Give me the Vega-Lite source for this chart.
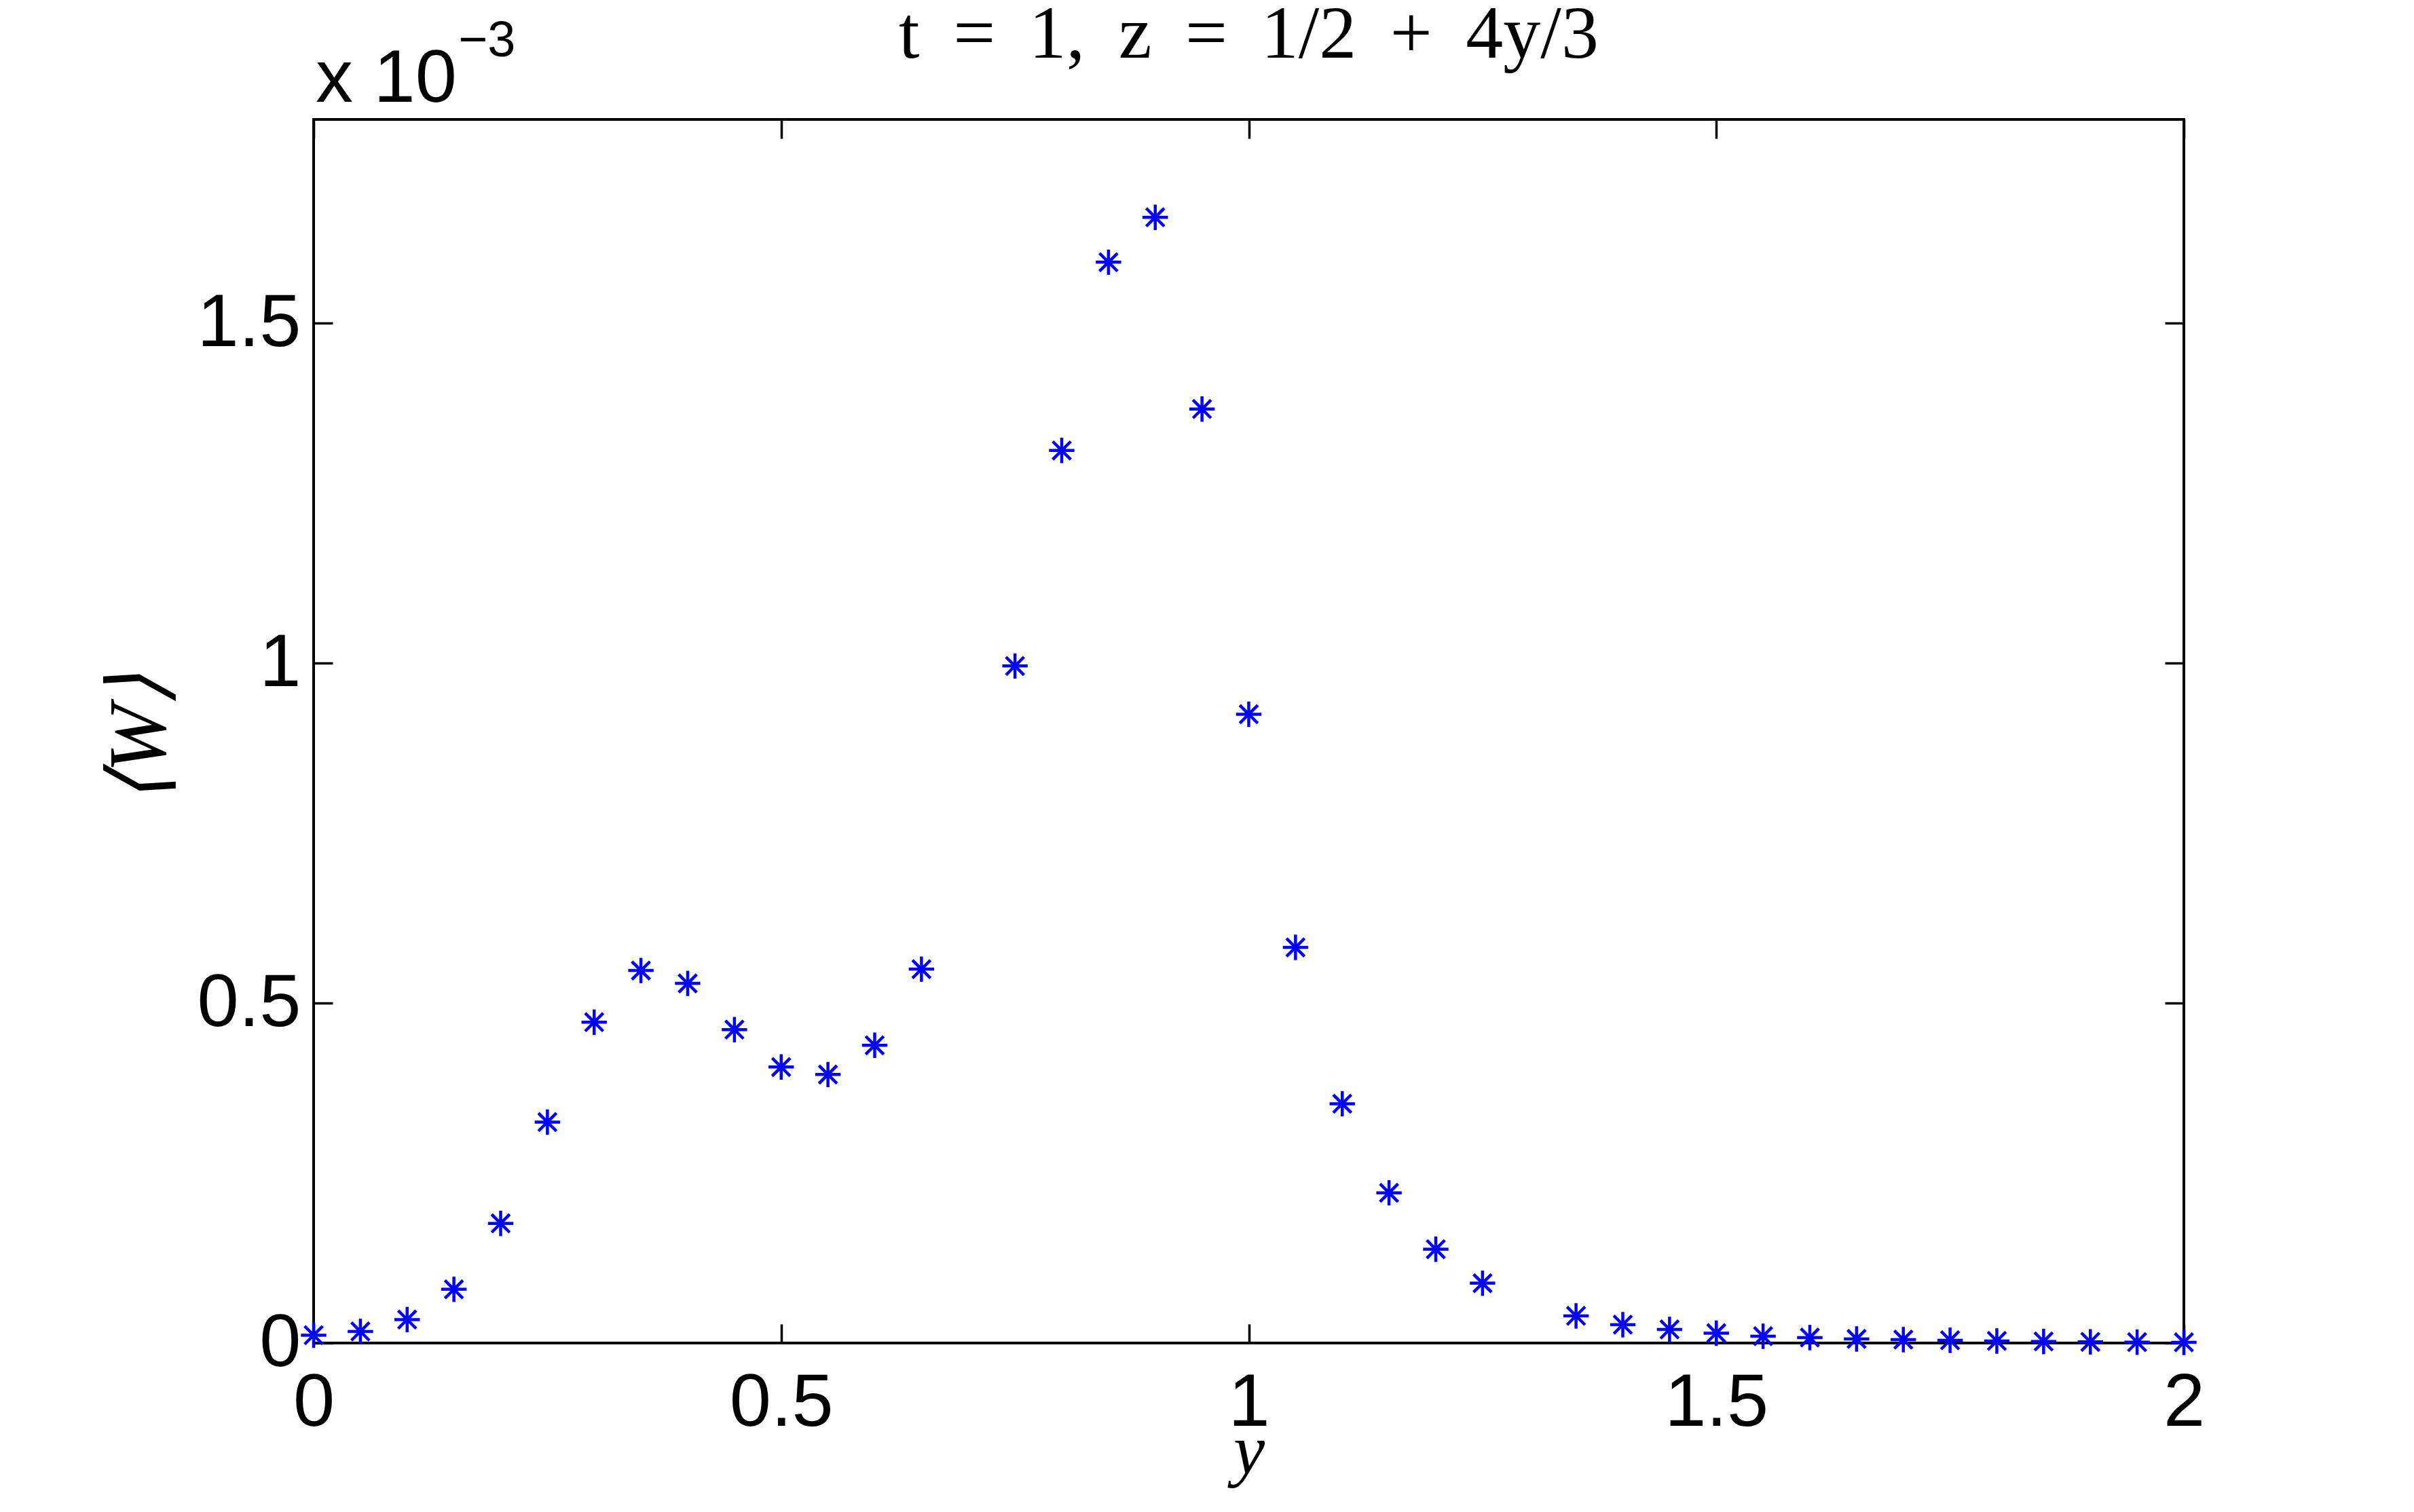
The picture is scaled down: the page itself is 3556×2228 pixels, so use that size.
{
  "$schema": "https://vega.github.io/schema/vega-lite/v6.json",
  "width": 2755,
  "height": 1803,
  "autosize": {"type": "none"},
  "padding": {"left": 462, "top": 176, "right": 339, "bottom": 249},
  "background": "white",
  "config": {
    "view": {"stroke": "black", "strokeWidth": 4},
    "axis": {
      "domain": false,
      "grid": false,
      "tickSize": -28,
      "tickWidth": 3.5,
      "tickColor": "black",
      "labelFont": "Liberation Sans",
      "labelFontSize": 110,
      "labelColor": "black",
      "labelFlush": false,
      "labelOverlap": false,
      "labelBound": false,
      "labelAngle": 0
    }
  },
  "title": {
    "text": "t\u2009 = \u20091,\u2009 z\u2009 = \u20091/2\u2009 + \u20094y/3",
    "font": "Liberation Serif",
    "fontSize": 110,
    "fontWeight": "normal",
    "color": "black",
    "anchor": "middle",
    "baseline": "alphabetic",
    "offset": -171
  },
  "data": {
    "values": [
      {"y": 0.00, "W": 1.15e-5},
      {"y": 0.05, "W": 1.7e-5},
      {"y": 0.10, "W": 3.45e-5},
      {"y": 0.15, "W": 7.9e-5},
      {"y": 0.20, "W": 1.76e-4},
      {"y": 0.25, "W": 3.25e-4},
      {"y": 0.30, "W": 4.72e-4},
      {"y": 0.35, "W": 5.48e-4},
      {"y": 0.40, "W": 5.29e-4},
      {"y": 0.45, "W": 4.61e-4},
      {"y": 0.50, "W": 4.06e-4},
      {"y": 0.55, "W": 3.95e-4},
      {"y": 0.60, "W": 4.38e-4},
      {"y": 0.65, "W": 5.50e-4},
      {"y": 0.75, "W": 9.96e-4},
      {"y": 0.80, "W": 1.313e-3},
      {"y": 0.85, "W": 1.590e-3},
      {"y": 0.90, "W": 1.656e-3},
      {"y": 0.95, "W": 1.374e-3},
      {"y": 1.00, "W": 9.25e-4},
      {"y": 1.05, "W": 5.82e-4},
      {"y": 1.10, "W": 3.52e-4},
      {"y": 1.15, "W": 2.21e-4},
      {"y": 1.20, "W": 1.38e-4},
      {"y": 1.25, "W": 8.8e-5},
      {"y": 1.35, "W": 4.0e-5},
      {"y": 1.40, "W": 2.7e-5},
      {"y": 1.45, "W": 2.0e-5},
      {"y": 1.50, "W": 1.45e-5},
      {"y": 1.55, "W": 1.0e-5},
      {"y": 1.60, "W": 8.0e-6},
      {"y": 1.65, "W": 6.0e-6},
      {"y": 1.70, "W": 5.0e-6},
      {"y": 1.75, "W": 4.0e-6},
      {"y": 1.80, "W": 3.0e-6},
      {"y": 1.85, "W": 2.3e-6},
      {"y": 1.90, "W": 1.7e-6},
      {"y": 1.95, "W": 1.3e-6},
      {"y": 2.00, "W": 1.0e-6}
    ]
  },
  "layer": [
    {
      "mark": {
        "type": "point",
        "shape": "M0,-1L0,1M-1,0L1,0M-0.71,-0.71L0.71,0.71M-0.71,0.71L0.71,-0.71",
        "filled": false,
        "stroke": "#0000ff",
        "strokeWidth": 4.5,
        "size": 1400,
        "opacity": 1,
        "clip": false
      },
      "encoding": {
        "x": {
          "field": "y",
          "type": "quantitative",
          "scale": {"domain": [0, 2], "nice": false, "zero": false},
          "axis": {
            "orient": "bottom",
            "values": [0, 0.5, 1, 1.5, 2],
            "format": "~g",
            "labelBaseline": "alphabetic",
            "labelPadding": 149,
            "title": "y",
            "titleFont": "Liberation Serif",
            "titleFontStyle": "italic",
            "titleFontWeight": "normal",
            "titleFontSize": 104,
            "titleColor": "black",
            "titleBaseline": "alphabetic",
            "titleAlign": "center",
            "titleX": 1377.5,
            "titleY": 191
          }
        },
        "y": {
          "field": "W",
          "type": "quantitative",
          "scale": {"domain": [0, 0.0018], "nice": false, "zero": false},
          "axis": {
            "orient": "left",
            "values": [0, 0.0005, 0.001, 0.0015],
            "labelExpr": "format(datum.value * 1000, '~g')",
            "labelBaseline": "middle",
            "labelAlign": "right",
            "labelPadding": 47,
            "title": "⟨W⟩",
            "titleFont": "Liberation Serif",
            "titleFontStyle": "italic",
            "titleFontWeight": "normal",
            "titleFontSize": 120,
            "titleColor": "black",
            "titleAngle": 270,
            "titleBaseline": "alphabetic",
            "titleAlign": "center",
            "titleX": -220,
            "titleY": 912
          }
        }
      }
    },
    {
      "mark": {"type": "point", "opacity": 0},
      "encoding": {
        "x": {
          "field": "y",
          "type": "quantitative",
          "scale": {"domain": [0, 2], "nice": false, "zero": false},
          "axis": {"orient": "top", "values": [0, 0.5, 1, 1.5, 2], "labels": false, "title": null}
        },
        "y": {
          "field": "W",
          "type": "quantitative",
          "scale": {"domain": [0, 0.0018], "nice": false, "zero": false},
          "axis": {"orient": "right", "values": [0, 0.0005, 0.001, 0.0015], "labels": false, "title": null}
        }
      }
    },
    {
      "data": {"values": [{"label": "x 10"}]},
      "mark": {
        "type": "text",
        "align": "left",
        "baseline": "alphabetic",
        "font": "Liberation Sans",
        "fontSize": 110,
        "color": "black",
        "dx": 3,
        "dy": -26
      },
      "encoding": {
        "x": {"datum": 0, "type": "quantitative", "scale": {"domain": [0, 2], "nice": false, "zero": false}, "axis": null},
        "y": {"datum": 0.0018, "type": "quantitative", "scale": {"domain": [0, 0.0018], "nice": false, "zero": false}, "axis": null},
        "text": {"field": "label"}
      }
    },
    {
      "data": {"values": [{"label": "−3"}]},
      "mark": {
        "type": "text",
        "align": "left",
        "baseline": "alphabetic",
        "font": "Liberation Sans",
        "fontSize": 74,
        "color": "black",
        "dx": 213,
        "dy": -93
      },
      "encoding": {
        "x": {"datum": 0, "type": "quantitative", "scale": {"domain": [0, 2], "nice": false, "zero": false}, "axis": null},
        "y": {"datum": 0.0018, "type": "quantitative", "scale": {"domain": [0, 0.0018], "nice": false, "zero": false}, "axis": null},
        "text": {"field": "label"}
      }
    }
  ]
}
